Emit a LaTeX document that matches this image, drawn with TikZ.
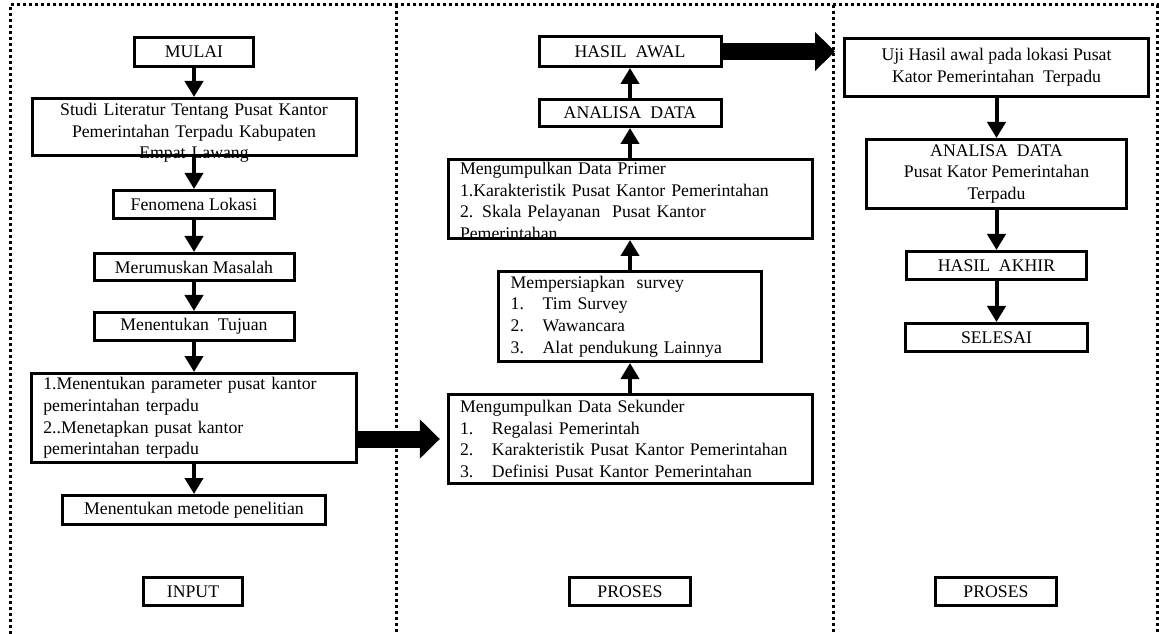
\documentclass[tikz,border=0pt]{standalone}
\usepackage{fontspec}
\setmainfont{Liberation Serif}
\usetikzlibrary{positioning,arrows.meta,shapes}

\begin{document}
\begin{tikzpicture}[x=0.75pt,y=-0.75pt]
    \tikzstyle{box} = [rectangle, draw, line width=2.25pt, inner xsep=2pt, inner ysep=0pt, align=center, font=\fontsize{13.3}{16.3}\selectfont]
    \tikzstyle{listbox} = [box, align=left, inner xsep=9pt]
    \tikzstyle{arrow} = [line width=3pt, -{Triangle[length=12pt,width=13.5pt]}]
    \tikzstyle{bigarrow} = [line width=12.75pt, -{Triangle[length=15pt,width=28.5pt]}]
    \tikzstyle{frame} = [line width=2.25pt, dash pattern=on 2.25pt off 2.25pt]

    \useasboundingbox (0,0) rectangle (1159,634);

    % dotted frame
    \draw[frame] (10,634) -- (10,5) -- (1157,5) -- (1157,634);
    \draw[frame] (396,5) -- (396,634);
    \draw[frame] (833,5) -- (833,634);

    % Input column
    \node[box, minimum width=89.25pt, minimum height=21.75pt] (mulai) at (194,52) {MULAI};
    \node[box, below=21.75pt of mulai, text width=239pt, minimum width=243pt, text height=12.75pt, text depth=30pt] (studi) {
        Studi Literatur Tentang Pusat Kantor\\
        Pemerintahan Terpadu Kabupaten\\
        Empat Lawang
    };
    \node[box, below=24pt of studi, minimum width=120.75pt, minimum height=21pt] (fenom) {Fenomena Lokasi};
    \node[box, below=24pt of fenom, minimum width=150pt, minimum height=20.25pt] (rumus) {Merumuskan Masalah};
    \node[box, below=21.75pt of rumus, minimum width=150pt, minimum height=21pt] (tujuan) {Menentukan~ Tujuan};
    \node[listbox, below=22.5pt of tujuan, text width=226pt, minimum width=242.25pt, minimum height=66.75pt] (param) {
        1.Menentukan parameter pusat kantor\\
        pemerintahan terpadu\\
        2..Menetapkan pusat kantor\\
        pemerintahan terpadu
    };
    \node[box, below=22.5pt of param, minimum width=197.25pt, minimum height=21.75pt] (metode) {Menentukan metode penelitian};
    \node[box, minimum width=74.25pt, minimum height=21pt] (input) at (193,591.5) {INPUT};

    % Proses column
    \node[box, minimum width=136.5pt, minimum height=22.5pt] (hasil) at (630,51.5) {HASIL~ AWAL};
    \node[box, below=22.5pt of hasil, minimum width=136.5pt, minimum height=20.25pt] (anls) {ANALISA~ DATA};
    \node[listbox, below=22.5pt of anls, text width=255pt, minimum width=273pt, text height=11.25pt, text depth=48pt] (primer) {
        Mengumpulkan Data Primer\\
        1.Karakteristik Pusat Kantor Pemerintahan\\
        2. Skala Pelayanan~ Pusat Kantor\\
        Pemerintahan
    };
    \node[listbox, below=22.5pt of primer, text width=179pt, minimum width=197.25pt, minimum height=67.5pt] (siap) {
        Mempersiapkan~ survey\\
        \makebox[24pt][l]{1.}Tim Survey\\
        \makebox[24pt][l]{2.}Wawancara\\
        \makebox[24pt][l]{3.}Alat pendukung Lainnya
    };
    \node[listbox, below=22.5pt of siap, text width=255pt, minimum width=273pt, minimum height=66.75pt] (sekun) {
        Mengumpulkan Data Sekunder\\
        \makebox[24pt][l]{1.}Regalasi Pemerintah\\
        \makebox[24pt][l]{2.}Karakteristik Pusat Kantor Pemerintahan\\
        \makebox[24pt][l]{3.}Definisi Pusat Kantor Pemerintahan
    };
    \node[box, minimum width=90.75pt, minimum height=21pt] (prosesa) at (630,591.5) {PROSES};

    % Proses column (right)
    \node[box, minimum width=228pt, minimum height=43.5pt] (uji) at (996.5,67.5) {
        Uji Hasil awal pada lokasi Pusat\\
        Kator Pemerintahan~ Terpadu
    };
    \node[box, below=30pt of uji, minimum width=195pt, minimum height=51.75pt] (anlsb) {
        ANALISA~ DATA\\
        Pusat Kator Pemerintahan\\
        Terpadu
    };
    \node[box, below=30pt of anlsb, minimum width=135pt, minimum height=21pt] (akhir) {HASIL~ AKHIR};
    \node[box, below=30.75pt of akhir, minimum width=136.5pt, minimum height=21pt] (selesai) {SELESAI};
    \node[box, minimum width=90.75pt, minimum height=21pt] (prosesb) at (996,591.5) {PROSES};

    % arrows
    \draw[arrow] (mulai) -- (studi);
    \draw[arrow] (studi) -- (fenom);
    \draw[arrow] (fenom) -- (rumus);
    \draw[arrow] (rumus) -- (tujuan);
    \draw[arrow] (tujuan) -- (param);
    \draw[arrow] (param) -- (metode);
    \draw[arrow] (sekun) -- (siap);
    \draw[arrow] (siap) -- (primer);
    \draw[arrow] (primer) -- (anls);
    \draw[arrow] (anls) -- (hasil);
    \draw[arrow] (uji) -- (anlsb);
    \draw[arrow] (anlsb) -- (akhir);
    \draw[arrow] (akhir) -- (selesai);
    \draw[bigarrow, shorten >=5pt] (param.east |- sekun.west) -- (sekun.west);
    \draw[bigarrow, shorten >=6pt] (hasil.east) -- (hasil.east -| uji.west);

\end{tikzpicture}
\end{document}
